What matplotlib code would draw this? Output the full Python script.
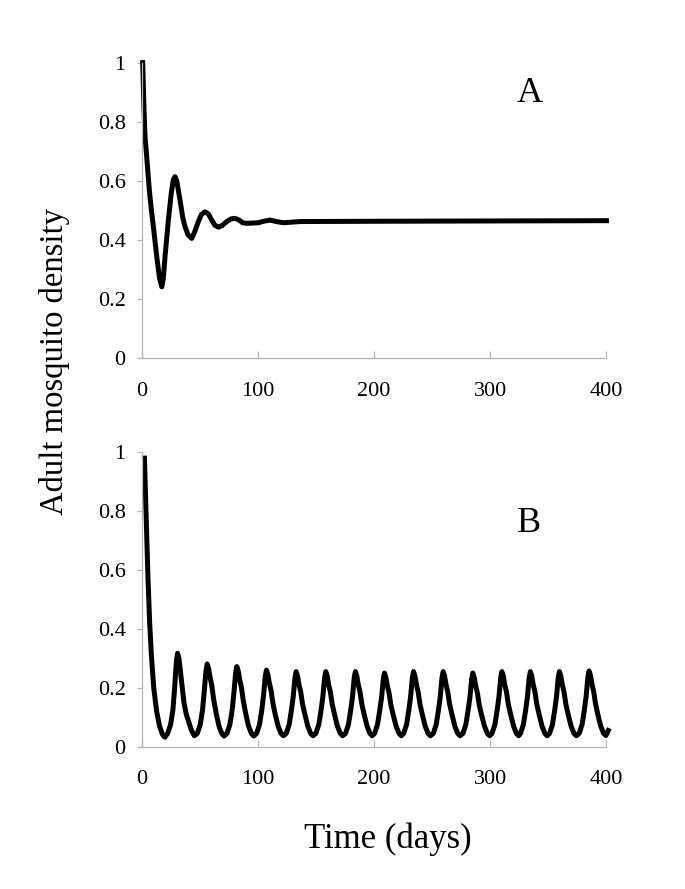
import matplotlib
matplotlib.use("Agg")
import matplotlib.pyplot as plt

plt.rcParams["font.family"] = ["Liberation Serif", "DejaVu Serif"]

# Panel A: damped oscillation to equilibrium
days_a = [1, 2, 3, 4.5, 6.7, 8.5, 10.2, 13.1, 15.5, 17.4, 18.8, 20.2, 23.1,
          25.5, 27.3, 28.8, 30.3, 33.1, 35.5, 37.4, 40, 43.2, 45.5, 48.9,
          51.5, 54.6, 57.5, 60.4, 63, 66.1, 69.5, 73.3, 77, 80.4, 84, 87,
          90.5, 100.5, 105, 110.5, 116, 122, 136.3, 200, 300, 400]
dens_a = [1.0, 0.86, 0.75, 0.68, 0.569, 0.5, 0.445, 0.343, 0.27, 0.241,
          0.27, 0.343, 0.467, 0.555, 0.603, 0.614, 0.6, 0.535, 0.475, 0.445,
          0.417, 0.405, 0.425, 0.462, 0.486, 0.495, 0.488, 0.467, 0.45,
          0.443, 0.449, 0.462, 0.471, 0.473, 0.467, 0.458, 0.456, 0.458,
          0.463, 0.467, 0.462, 0.458, 0.462, 0.463, 0.464, 0.465]

# Panel B: sustained oscillations
days_b = [2.5, 4, 5.5, 7, 8.5, 10.5, 13, 15.5, 18, 20,
          22.5, 25, 27, 28.5, 30, 31, 32.2, 33.5, 35, 36.5, 38.5, 40.5, 43, 45.5,
          48, 50.5, 52.5, 54, 55.5, 56.5, 57.7, 59, 60.5, 62, 64, 66.5, 69, 71,
          73.5, 76, 78, 79.5, 81, 82, 83.2, 84.5, 86, 87.5, 89.5, 92, 94.5, 96.5,
          99, 101.5, 103.5, 105, 106.5, 107.5, 108.7, 110, 111.5, 113, 115, 117.5, 120, 122,
          124.5, 127, 129, 130.5, 132, 133, 134.2, 135.5, 137, 138.5, 140.5, 143, 145.5, 147.5,
          150, 152.5, 154.5, 156, 157.5, 158.5, 159.7, 161, 162.5, 164, 166, 168.5, 171, 173,
          175.5, 178, 180, 181.5, 183, 184, 185.2, 186.5, 188, 189.5, 191.5, 194, 196.5, 198.5,
          200.5, 203, 205, 206.5, 208, 209, 210.2, 211.5, 213, 214.5, 216.5, 219, 221.5, 223.5,
          225.5, 228, 230, 231.5, 233, 234, 235.2, 236.5, 238, 239.5, 241.5, 244, 246.5, 248.5,
          251, 253.5, 255.5, 257, 258.5, 259.5, 260.7, 262, 263.5, 265, 267, 269.5, 272, 274,
          276.5, 279, 281, 282.5, 284, 285, 286.2, 287.5, 289, 290.5, 292.5, 295, 297.5, 299.5,
          301.5, 304, 306, 307.5, 309, 310, 311.2, 312.5, 314, 315.5, 317.5, 320, 322.5, 324.5,
          326, 328.5, 330.5, 332, 333.5, 334.5, 335.7, 337, 338.5, 340, 342, 344.5, 347, 349,
          351, 353.5, 355.5, 357, 358.5, 359.5, 360.7, 362, 363.5, 365, 367, 369.5, 372, 374,
          376.5, 379, 381, 382.5, 384, 385, 386.2, 387.5, 389, 390.5, 392.5, 395, 397.5, 399.5,
          401.5]
dens_b = [0.98, 0.78, 0.58, 0.42, 0.31, 0.2, 0.12, 0.07, 0.042, 0.032,
          0.045, 0.075, 0.125, 0.2, 0.29, 0.317, 0.3, 0.255, 0.2, 0.15, 0.11, 0.085, 0.055, 0.037,
          0.045, 0.075, 0.125, 0.19, 0.26, 0.281, 0.265, 0.235, 0.207, 0.162, 0.118, 0.072, 0.045, 0.036,
          0.045, 0.075, 0.125, 0.184, 0.252, 0.272, 0.257, 0.227, 0.2, 0.157, 0.115, 0.071, 0.045, 0.036,
          0.045, 0.075, 0.125, 0.175, 0.24, 0.26, 0.245, 0.215, 0.19, 0.148, 0.11, 0.07, 0.045, 0.037,
          0.045, 0.075, 0.125, 0.17, 0.235, 0.255, 0.24, 0.21, 0.185, 0.145, 0.11, 0.07, 0.045, 0.037,
          0.045, 0.075, 0.125, 0.17, 0.235, 0.255, 0.24, 0.21, 0.185, 0.145, 0.11, 0.07, 0.045, 0.037,
          0.045, 0.075, 0.125, 0.17, 0.235, 0.255, 0.24, 0.21, 0.185, 0.145, 0.11, 0.07, 0.045, 0.037,
          0.045, 0.075, 0.125, 0.167, 0.23, 0.25, 0.235, 0.206, 0.181, 0.142, 0.108, 0.07, 0.045, 0.037,
          0.045, 0.075, 0.125, 0.17, 0.235, 0.255, 0.24, 0.21, 0.185, 0.145, 0.11, 0.07, 0.045, 0.037,
          0.045, 0.075, 0.125, 0.17, 0.235, 0.255, 0.24, 0.21, 0.185, 0.145, 0.11, 0.07, 0.045, 0.037,
          0.045, 0.075, 0.125, 0.167, 0.23, 0.25, 0.235, 0.206, 0.181, 0.142, 0.108, 0.07, 0.045, 0.037,
          0.045, 0.075, 0.125, 0.17, 0.235, 0.255, 0.24, 0.21, 0.185, 0.145, 0.11, 0.07, 0.045, 0.037,
          0.045, 0.075, 0.125, 0.17, 0.235, 0.255, 0.24, 0.21, 0.185, 0.145, 0.11, 0.07, 0.045, 0.037,
          0.045, 0.075, 0.125, 0.17, 0.235, 0.255, 0.24, 0.21, 0.185, 0.145, 0.11, 0.07, 0.045, 0.037,
          0.045, 0.075, 0.125, 0.172, 0.237, 0.257, 0.242, 0.212, 0.187, 0.147, 0.11, 0.07, 0.045, 0.038,
          0.055]

x_ticks = [0, 100, 200, 300, 400]
y_ticks = [0, 0.2, 0.4, 0.6, 0.8, 1]
y_tick_labels = ["0", "0.2", "0.4", "0.6", "0.8", "1"]

AXIS_GRAY = "#b4b4b4"


def style_axes(ax):
	ax.set_xlim(0, 400)
	ax.set_ylim(0, 1)
	ax.set_xticks(x_ticks)
	ax.set_xticklabels([str(t) for t in x_ticks])
	ax.set_yticks(y_ticks)
	ax.set_yticklabels(y_tick_labels)
	for side in ("top", "right"):
		ax.spines[side].set_visible(False)
	for side in ("left", "bottom"):
		ax.spines[side].set_color(AXIS_GRAY)
		ax.spines[side].set_linewidth(0.9)
	ax.tick_params(axis="x", direction="in", length=5, width=0.9,
				   color=AXIS_GRAY, pad=17, labelsize=16)
	ax.tick_params(axis="y", direction="out", length=3.5, width=0.9,
				   color=AXIS_GRAY, pad=8, labelsize=16)


fig = plt.figure(figsize=(6.85, 8.89), dpi=100)
ax_a = fig.add_axes([0.2066, 0.5973, 0.6788, 0.3322])
ax_b = fig.add_axes([0.2066, 0.1601, 0.6788, 0.3312])

ax_a.plot(days_a, dens_a, color="black", linewidth=3.6,
		  solid_joinstyle="round", clip_on=False)
ax_b.plot(days_b, dens_b, color="black", linewidth=3.6,
		  solid_joinstyle="round", clip_on=False)

style_axes(ax_a)
style_axes(ax_b)

fig.text(0.7737, 0.8853, "A", fontsize=26, ha="center", va="baseline")
fig.text(0.7723, 0.4016, "B", fontsize=26, ha="center", va="baseline")

fig.text(0.5664, 0.0461, "Time (days)", fontsize=25, ha="center", va="baseline")
fig.text(0.092, 0.5934, "Adult mosquito density", fontsize=23.5, rotation=90,
		 rotation_mode="anchor", ha="center", va="baseline")

fig.savefig("out.png", dpi=100)
